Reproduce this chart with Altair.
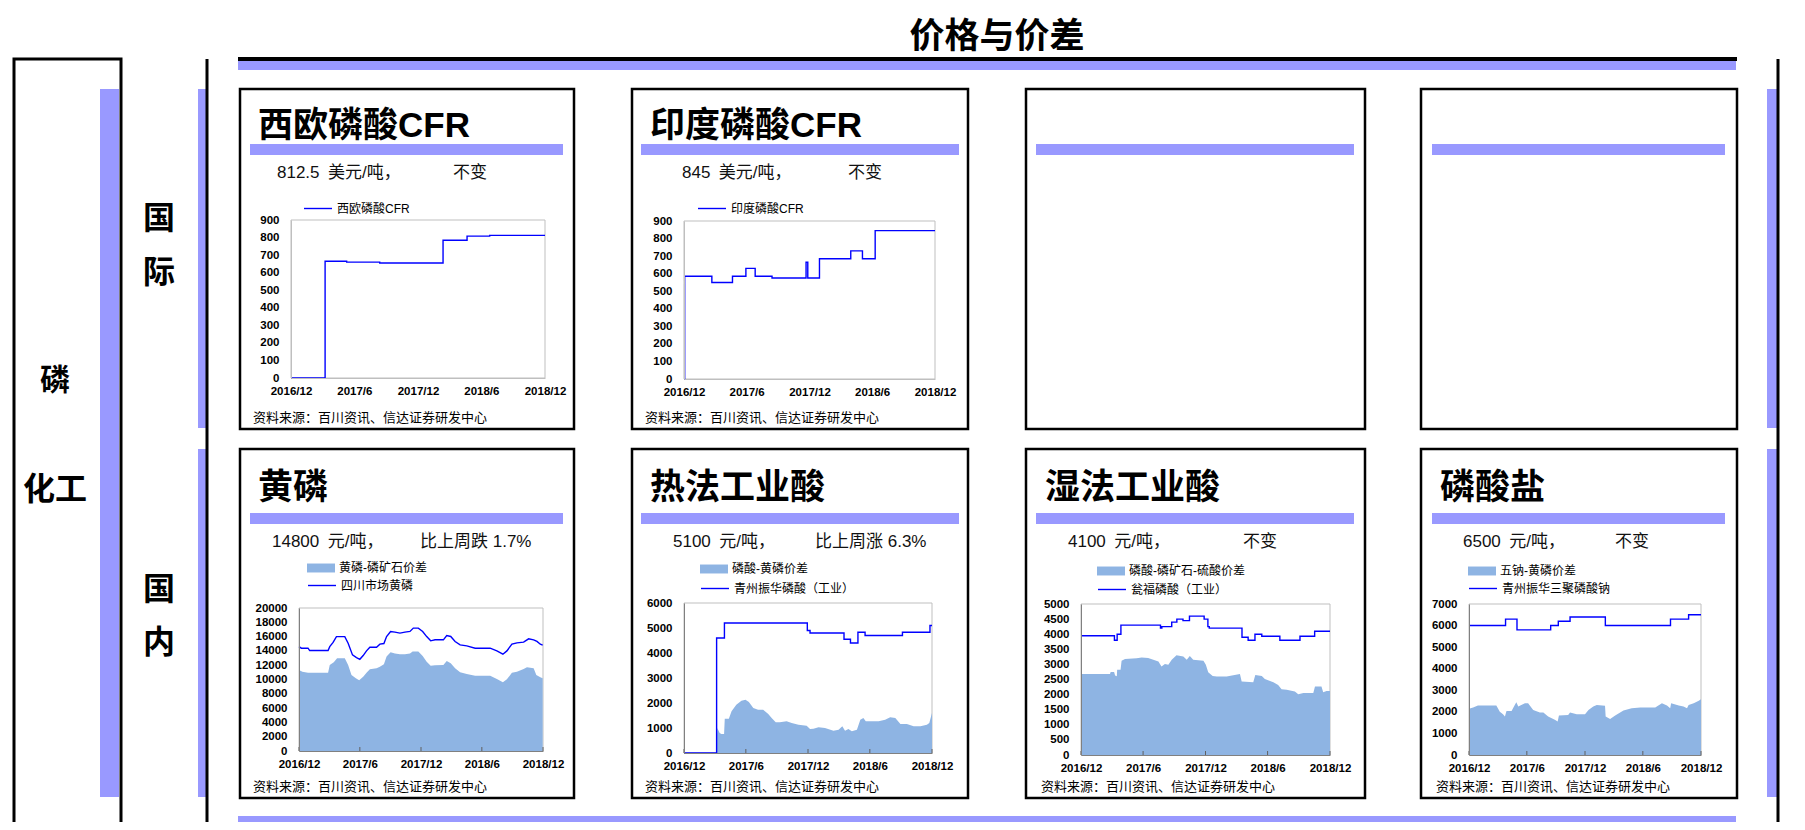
import altair as alt
import pandas as pd

# ---------------- data ----------------
# 西欧磷酸CFR (USD/t), step series
eu_dates = ["2016-12-01", "2017-03-09", "2017-05-10", "2017-08-13", "2018-02-11",
            "2018-04-21", "2018-06-25", "2018-12-01"]
eu_vals = [0, 665, 660, 655, 785, 808, 812.5, 812.5]

# 印度磷酸CFR (USD/t), step series
in_dates = ["2016-12-01", "2016-12-03", "2017-02-20", "2017-04-21", "2017-05-30",
            "2017-06-26", "2017-08-14", "2017-11-21", "2017-11-26", "2017-12-30",
            "2018-03-31", "2018-05-04", "2018-06-10", "2018-12-01"]
in_vals = [0, 585, 550, 585, 630, 585, 575, 665, 575, 685, 730, 685, 845, 845]

# 黄磷: 四川市场黄磷 (line)
yp_line_dates = ["2016-12-01", "2016-12-08", "2016-12-28", "2017-01-02", "2017-02-26",
                 "2017-03-03", "2017-03-13", "2017-03-23", "2017-04-17", "2017-04-27",
                 "2017-05-10", "2017-05-22", "2017-06-01", "2017-06-11", "2017-06-21",
                 "2017-07-01", "2017-07-21", "2017-07-31", "2017-08-12", "2017-08-20",
                 "2017-09-01", "2017-09-14", "2017-09-29", "2017-10-14", "2017-10-29",
                 "2017-11-08", "2017-11-23", "2017-12-06", "2017-12-18", "2017-12-30",
                 "2018-01-12", "2018-02-06", "2018-02-16", "2018-02-28", "2018-03-13",
                 "2018-03-28", "2018-04-17", "2018-05-12", "2018-06-26", "2018-07-16",
                 "2018-08-03", "2018-08-15", "2018-08-30", "2018-09-14", "2018-10-04",
                 "2018-10-19", "2018-11-03", "2018-11-13", "2018-11-23", "2018-11-30"]
yp_line_vals = [14600, 14380, 14380, 14050, 14050, 14600, 15180, 16000, 16000, 15080,
                13440, 13070, 12830, 13350, 14000, 14520, 14520, 14940, 15030, 16000,
                16720, 16630, 16490, 16630, 16720, 17190, 17190, 16720, 16000, 15410,
                15550, 15550, 16160, 16020, 15320, 14850, 14710, 14380, 14380, 14000,
                13540, 14000, 14940, 15130, 15220, 15690, 15550, 15320, 14940, 14800]
# 黄磷-磷矿石价差 (area)
yp_area_dates = ["2016-12-01", "2016-12-11", "2016-12-28", "2017-02-26", "2017-03-03",
                 "2017-03-15", "2017-03-25", "2017-04-17", "2017-04-27", "2017-05-07",
                 "2017-05-20", "2017-05-30", "2017-06-11", "2017-06-21", "2017-07-01",
                 "2017-07-21", "2017-07-31", "2017-08-12", "2017-08-20", "2017-09-01",
                 "2017-09-14", "2017-09-29", "2017-10-14", "2017-10-29", "2017-11-06",
                 "2017-11-23", "2017-12-06", "2017-12-18", "2017-12-30", "2018-01-12",
                 "2018-02-06", "2018-02-16", "2018-02-28", "2018-03-13", "2018-03-28",
                 "2018-04-17", "2018-05-12", "2018-06-26", "2018-07-16", "2018-08-03",
                 "2018-08-15", "2018-08-30", "2018-09-14", "2018-10-04", "2018-10-14",
                 "2018-11-03", "2018-11-11", "2018-11-23", "2018-11-30"]
yp_area_vals = [11330, 11100, 10960, 10960, 12040, 12410, 12970, 12970, 12040, 10630,
                10160, 9880, 10400, 10960, 11430, 11570, 11800, 12130, 13210, 13820,
                13630, 13540, 13540, 13630, 13910, 13910, 13300, 12500, 11940, 11990,
                12040, 12600, 12270, 11570, 11010, 10770, 10540, 10540, 10070, 9600,
                10020, 10960, 11100, 11480, 11710, 11570, 10630, 10300, 10160]

# 热法工业酸: 青州振华磷酸（工业） (step line)
rf_line_dates = ["2016-12-01", "2017-03-07", "2017-03-30", "2017-11-29", "2017-12-07",
                 "2018-03-17", "2018-04-05", "2018-04-27", "2018-05-18", "2018-09-05",
                 "2018-11-25", "2018-12-01"]
rf_line_vals = [0, 4600, 5200, 4900, 4800, 4550, 4400, 4830, 4700, 4830, 5100, 5100]
# 磷酸-黄磷价差 (area)
rf_area_dates = ["2016-12-01", "2017-03-06", "2017-03-09", "2017-03-16", "2017-03-21",
                 "2017-03-29", "2017-03-31", "2017-04-12", "2017-04-20", "2017-05-04",
                 "2017-05-19", "2017-05-31", "2017-06-10", "2017-06-23", "2017-07-07",
                 "2017-07-22", "2017-08-06", "2017-08-16", "2017-08-28", "2017-09-09",
                 "2017-09-29", "2017-10-14", "2017-11-03", "2017-11-27", "2017-12-07",
                 "2017-12-17", "2018-01-01", "2018-01-20", "2018-02-14", "2018-03-01",
                 "2018-03-12", "2018-03-20", "2018-03-30", "2018-04-09", "2018-04-24",
                 "2018-05-04", "2018-05-13", "2018-05-20", "2018-06-27", "2018-07-16",
                 "2018-07-31", "2018-08-15", "2018-08-30", "2018-09-18", "2018-10-08",
                 "2018-10-28", "2018-11-16", "2018-11-23", "2018-12-01"]
rf_area_vals = [0, 0, 1000, 800, 760, 760, 1370, 1370, 1670, 1930,
                2090, 2130, 2040, 1800, 1730, 1730, 1560, 1400, 1230, 1230,
                1270, 1200, 1130, 1090, 960, 970, 1030, 1000, 890, 930,
                1070, 890, 960, 870, 930, 1330, 1400, 1270, 1270, 1330,
                1430, 1400, 1160, 1160, 1070, 1070, 1130, 1200, 1600]

# 湿法工业酸: 瓮福磷酸（工业） (step line)
sf_line_dates = ["2016-12-01", "2017-03-09", "2017-03-17", "2017-03-28", "2017-07-22",
                 "2017-07-26", "2017-08-24", "2017-09-08", "2017-09-26", "2017-10-15",
                 "2017-11-27", "2017-12-08", "2017-12-12", "2018-03-18", "2018-04-05",
                 "2018-04-25", "2018-05-15", "2018-07-07", "2018-09-04", "2018-10-17",
                 "2018-12-01"]
sf_line_vals = [3950, 3800, 4000, 4300, 4200, 4250, 4400, 4500, 4450, 4600,
                4500, 4250, 4200, 3900, 3800, 4000, 3930, 3800, 3930, 4100, 4100]
# 磷酸-磷矿石-硫酸价差 (area)
sf_area_dates = ["2016-12-01", "2017-02-24", "2017-02-26", "2017-03-08", "2017-03-11",
                 "2017-03-16", "2017-03-17", "2017-03-27", "2017-03-30", "2017-04-09",
                 "2017-05-13", "2017-05-28", "2017-06-16", "2017-07-01", "2017-07-16",
                 "2017-07-25", "2017-08-04", "2017-08-14", "2017-08-24", "2017-09-07",
                 "2017-09-27", "2017-10-07", "2017-10-16", "2017-10-26", "2017-11-25",
                 "2017-12-02", "2017-12-09", "2017-12-22", "2018-01-03", "2018-02-01",
                 "2018-03-12", "2018-03-17", "2018-04-20", "2018-04-26", "2018-05-15",
                 "2018-05-24", "2018-06-18", "2018-07-02", "2018-07-12", "2018-07-27",
                 "2018-08-20", "2018-08-30", "2018-09-14", "2018-10-13", "2018-10-18",
                 "2018-11-06", "2018-11-11", "2018-11-21", "2018-12-01"]
sf_area_vals = [2680, 2680, 2750, 2750, 2630, 2610, 2820, 2820, 3120, 3175,
                3200, 3230, 3210, 3150, 3100, 2930, 3010, 2990, 3150, 3300,
                3260, 3150, 3280, 3150, 3120, 2990, 2740, 2620, 2600, 2600,
                2680, 2430, 2410, 2650, 2620, 2520, 2410, 2320, 2180, 2160,
                2100, 2010, 2050, 2050, 2270, 2270, 2080, 2120, 2120]

# 磷酸盐: 青州振华三聚磷酸钠 (step line)
ps_line_dates = ["2016-12-01", "2017-03-26", "2017-05-01", "2017-08-15", "2017-09-08",
                 "2017-10-15", "2018-02-03", "2018-08-27", "2018-10-23", "2018-12-01"]
ps_line_vals = [6000, 6300, 5800, 6000, 6200, 6400, 6000, 6300, 6500, 6500]
# 五钠-黄磷价差 (area)
ps_area_dates = ["2016-12-01", "2016-12-14", "2016-12-29", "2017-02-25", "2017-03-08",
                 "2017-03-18", "2017-03-24", "2017-03-29", "2017-04-14", "2017-04-24",
                 "2017-04-29", "2017-05-05", "2017-05-26", "2017-06-05", "2017-06-21",
                 "2017-07-12", "2017-07-23", "2017-08-07", "2017-08-28", "2017-09-06",
                 "2017-09-10", "2017-10-09", "2017-10-15", "2017-11-05", "2017-12-01",
                 "2017-12-12", "2017-12-27", "2018-01-07", "2018-02-02", "2018-02-04",
                 "2018-02-18", "2018-03-06", "2018-04-01", "2018-04-27", "2018-05-24",
                 "2018-07-10", "2018-07-31", "2018-08-16", "2018-08-26", "2018-08-29",
                 "2018-09-22", "2018-10-07", "2018-10-18", "2018-10-23", "2018-11-08",
                 "2018-11-24", "2018-12-01"]
ps_area_vals = [2140, 2200, 2300, 2300, 2010, 1890, 1780, 2040, 2040, 2320,
                2450, 2250, 2400, 2400, 2090, 1970, 1970, 1780, 1630, 1550,
                1830, 1860, 1970, 1890, 1890, 2090, 2250, 2320, 2280, 1780,
                1670, 1830, 2060, 2170, 2200, 2200, 2400, 2290, 2170, 2400,
                2290, 2250, 2170, 2320, 2400, 2510, 2590]

# x-axis tick dates
tick_dates = ["2016-12-01", "2017-06-01", "2017-12-01", "2018-06-01", "2018-12-01"]

# texts
main_title = "价格与价差"
panel_titles = ["西欧磷酸CFR", "印度磷酸CFR", "黄磷", "热法工业酸", "湿法工业酸", "磷酸盐"]
price_texts = ["812.5\u2002美元/吨，", "845\u2002美元/吨，", "14800\u2002元/吨，",
               "5100\u2002元/吨，", "4100\u2002元/吨，", "6500\u2002元/吨，"]
change_texts = ["不变", "不变", "比上周跌 1.7%", "比上周涨 6.3%", "不变", "不变"]
line_names = ["西欧磷酸CFR", "印度磷酸CFR", "四川市场黄磷", "青州振华磷酸（工业）",
              "瓮福磷酸（工业）", "青州振华三聚磷酸钠"]
area_names = [None, None, "黄磷-磷矿石价差", "磷酸-黄磷价差", "磷酸-磷矿石-硫酸价差", "五钠-黄磷价差"]
source_text = "资料来源：百川资讯、信达证券研发中心"

# ---------------- layout / style ----------------
W, H = 1789, 814
M = 8


def X(v):
    return v - M


def Y(v):
    return v - M


FONT = "Liberation Sans, Noto Sans CJK SC"
PURPLE = "#9999FF"
LINE_BLUE = "#0000FF"
AREA_BLUE = "#8EB4E3"
FRAME = "#BFBFBF"
ONE = pd.DataFrame({"k": [0]})


def dt(y, m, d=1):
    return alt.DateTime(year=y, month=m, date=d, utc=True)


X_TICKS = [dt(2016, 12), dt(2017, 6), dt(2017, 12), dt(2018, 6), dt(2018, 12)]


def rect(x0, y0, x1, y1, fill=None, stroke=None, sw=0.0):
    props = {}
    if fill is not None:
        props["fill"] = fill
    else:
        props["fill"] = "white"
        props["fillOpacity"] = 0
    if stroke is not None:
        props["stroke"] = stroke
        props["strokeWidth"] = sw
    else:
        props["strokeWidth"] = 0
    return alt.Chart(ONE).mark_rect(**props).encode(
        x=alt.value(X(x0)), x2=alt.value(X(x1)),
        y=alt.value(Y(y0)), y2=alt.value(Y(y1)))


def text(t, x, y, size, bold=False, align="left", color="black", font=FONT):
    return alt.Chart(pd.DataFrame({"t": [t]})).mark_text(
        align=align, baseline="middle", fontSize=size,
        fontWeight="bold" if bold else "normal", font=font, color=color
    ).encode(x=alt.value(X(x)), y=alt.value(Y(y)), text="t:N")


def plot(pbox, ymax, ystep, ldates, lvals, lname, interp, lleg,
         adates=None, avals=None, aname=None, aleg=None, dom=FRAME, inner_ticks=False):
    x0, y0, x1, y1 = pbox
    xs = alt.Scale(type="utc", domain=[dt(2016, 12), dt(2018, 12)], range=[X(x0), X(x1)])
    ys = alt.Scale(domain=[0, ymax], range=[Y(y1), Y(y0)], nice=False, zero=True)
    xax = alt.Axis(orient="bottom", offset=Y(y1) - H, values=X_TICKS, format="%Y/%-m",
                   labelFont=FONT, labelFontSize=11.5, labelFontWeight="bold",
                   labelColor="black", labelPadding=7, ticks=False, grid=False, zindex=2,
                   domainColor=dom, domainWidth=1, title=None, labelOverlap=False,
                   labelFlush=False)
    yax = alt.Axis(orient="left", offset=-X(x0), values=list(range(0, ymax + 1, ystep)),
                   format="d", labelFont=FONT, labelFontSize=11.5, labelFontWeight="bold",
                   labelColor="black", labelPadding=12, ticks=False, grid=False, zindex=2,
                   domainColor=dom, domainWidth=1, title=None, labelOverlap=False,
                   labelFlush=False)
    parts = []
    if adates is not None:
        adf = pd.DataFrame({"d": adates, "v": avals, "s": [aname] * len(adates)})
        parts.append(alt.Chart(adf).mark_area(opacity=1, interpolate="linear").encode(
            x=alt.X("d:T", scale=xs, axis=xax),
            y=alt.Y("v:Q", scale=ys, axis=yax),
            fill=alt.Fill("s:N", scale=alt.Scale(domain=[aname], range=[AREA_BLUE]),
                          legend=alt.Legend(orient="none", legendX=X(aleg[0]),
                                            legendY=Y(aleg[1]) - 14, title=None,
                                            symbolType="M-1,-0.32H1V0.32H-1Z",
                                            symbolSize=784, symbolStrokeWidth=0,
                                            labelFont=FONT, labelFontSize=12,
                                            labelColor="black", labelOffset=4,
                                            padding=0, labelLimit=300))))
    ldf = pd.DataFrame({"d": ldates, "v": lvals, "s": [lname] * len(ldates)})
    parts.append(alt.Chart(ldf).mark_line(interpolate=interp, strokeWidth=1.4).encode(
        x=alt.X("d:T", scale=xs, axis=xax),
        y=alt.Y("v:Q", scale=ys, axis=yax),
        stroke=alt.Stroke("s:N", scale=alt.Scale(domain=[lname], range=[LINE_BLUE]),
                          legend=alt.Legend(orient="none", legendX=X(lleg[0]),
                                            legendY=Y(lleg[1]) - 14.5, title=None,
                                            symbolType="stroke", symbolSize=784,
                                            symbolStrokeWidth=1.4,
                                            labelFont=FONT, labelFontSize=12,
                                            labelColor="black", labelOffset=4,
                                            padding=0, labelLimit=300))))
    if inner_ticks:
        tdf = pd.DataFrame({"d": tick_dates})
        parts.append(alt.Chart(tdf).mark_rule(color="#606060", strokeWidth=1).encode(
            x=alt.X("d:T", scale=xs, axis=xax),
            y=alt.value(Y(y1)), y2=alt.value(Y(y1) - 4)))
    if len(parts) == 1:
        return parts[0]
    return alt.layer(*parts)


layers = []

# ---- outer frame decorations ----
layers.append(rect(14, 59, 121, 828, stroke="black", sw=3))           # left box
layers.append(rect(100, 89, 119, 797, fill=PURPLE))                    # purple bar in left box
layers.append(rect(198, 89, 206, 428, fill=PURPLE))
layers.append(rect(198, 449, 206, 797, fill=PURPLE))
layers.append(rect(205.5, 59, 208.5, 829, fill="black"))              # left vertical line
layers.append(rect(1767, 89, 1777, 428, fill=PURPLE))
layers.append(rect(1767, 449, 1777, 797, fill=PURPLE))
layers.append(rect(1776.5, 59, 1779.5, 829, fill="black"))            # right vertical line
layers.append(rect(238, 57, 1737, 61, fill="black"))                  # top black line
layers.append(rect(238, 61, 1736, 70, fill=PURPLE))                   # top purple bar
layers.append(rect(238, 816, 1736, 825, fill=PURPLE))                 # bottom purple bar
layers.append(rect(238, 825, 1737, 829, fill="black"))                # bottom black line

# ---- panels ----
cols = [(240, 574), (632, 968), (1026, 1365), (1421, 1737)]
rows = [(89, 429), (449, 798)]
bars = [(250, 563), (641, 959), (1036, 1354), (1432, 1725)]
for ri, (ry0, ry1) in enumerate(rows):
    for ci, (cx0, cx1) in enumerate(cols):
        layers.append(rect(cx0, ry0, cx1, ry1, stroke="black", sw=2.5))
        by = (144, 155) if ri == 0 else (513, 524)
        layers.append(rect(bars[ci][0], by[0], bars[ci][1], by[1], fill=PURPLE))

# plot frames
plot_boxes = [(291, 220, 545, 378), (684, 221, 935, 379),
              (299, 608, 543, 751), (684, 603, 932, 753),
              (1081, 604, 1330, 755), (1469, 604, 1701, 755)]
for b in plot_boxes:
    layers.append(rect(b[0], b[1], b[2], b[3], stroke=FRAME, sw=1))

# ---- data plots ----
layers.append(plot(plot_boxes[0], 900, 100, eu_dates, eu_vals, line_names[0], "step-after",
                   (303, 208)))
layers.append(plot(plot_boxes[1], 900, 100, in_dates, in_vals, line_names[1], "step-after",
                   (697, 208)))
layers.append(plot(plot_boxes[2], 20000, 2000, yp_line_dates, yp_line_vals, line_names[2],
                   "linear", (307, 585), yp_area_dates, yp_area_vals, area_names[2],
                   (307, 568), dom="#808080", inner_ticks=True))
layers.append(plot(plot_boxes[3], 6000, 1000, rf_line_dates, rf_line_vals, line_names[3],
                   "step-after", (700, 588), rf_area_dates, rf_area_vals, area_names[3],
                   (700, 569), dom="#808080", inner_ticks=True))
layers.append(plot(plot_boxes[4], 5000, 500, sf_line_dates, sf_line_vals, line_names[4],
                   "step-after", (1097, 589), sf_area_dates, sf_area_vals, area_names[4],
                   (1097, 571), dom="#808080", inner_ticks=True))
layers.append(plot(plot_boxes[5], 7000, 1000, ps_line_dates, ps_line_vals, line_names[5],
                   "step-after", (1468, 588), ps_area_dates, ps_area_vals, area_names[5],
                   (1468, 571), dom="#808080", inner_ticks=True))

# ---- texts ----
layers.append(text(main_title, 997, 37, 35, bold=True, align="center"))
layers.append(text("磷", 55, 381, 30, bold=True, align="center"))
layers.append(text("化工", 55, 490, 32, bold=True, align="center"))
for ch, yy in [("国", 219), ("际", 273), ("国", 590), ("内", 643)]:
    layers.append(text(ch, 159, yy, 32, bold=True, align="center"))

title_pos = [(258, 126), (650, 126), (258, 488), (650, 488), (1045, 488), (1440, 488)]
price_pos = [(277, 173), (682, 173), (272, 542), (673, 542), (1068, 542), (1463, 542)]
change_pos = [(453, 173), (848, 173), (420, 542), (815, 542), (1243, 542), (1615, 542)]
for i in range(6):
    layers.append(text(panel_titles[i], title_pos[i][0], title_pos[i][1], 35, bold=True))
    layers.append(text(price_texts[i], price_pos[i][0], price_pos[i][1], 17, color="#111111"))
    layers.append(text(change_texts[i], change_pos[i][0], change_pos[i][1], 17, color="#111111"))

src_pos = [(253, 418), (645, 418), (253, 787), (645, 787), (1041, 787), (1436, 787)]
for p in src_pos:
    layers.append(text(source_text, p[0], p[1], 13))

chart = alt.layer(*layers).resolve_scale(
    x="independent", y="independent", fill="independent", stroke="independent"
).resolve_axis(
    x="independent", y="independent"
).resolve_legend(
    fill="independent", stroke="independent"
).properties(
    width=W, height=H, autosize=alt.AutoSizeParams(type="none"), padding=0,
    background="white"
).configure_view(stroke=None)

chart.save("out.html", embed_options={"renderer": "svg", "actions": False})
